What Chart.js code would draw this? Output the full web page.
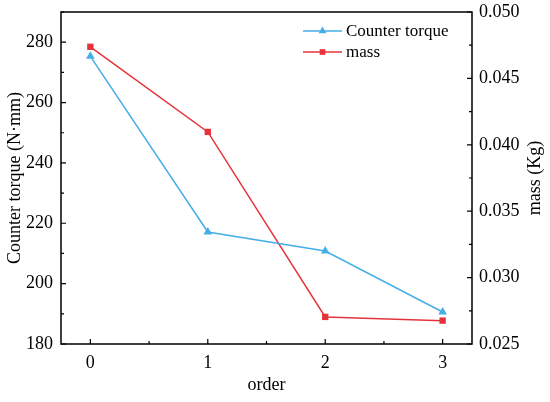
<!DOCTYPE html>
<html>
<head>
<meta charset="utf-8">
<script src="https://cdn.jsdelivr.net/npm/chart.js@4.4.1/dist/chart.umd.min.js"></script>
<style>
  html, body { margin: 0; padding: 0; background: #fff; }
  #wrap { width: 550px; height: 402px; }
</style>
</head>
<body>
<div id="wrap"><canvas id="torqueChart" width="550" height="402"></canvas></div>
<script>
const orders = [0, 1, 2, 3];
const torque = [275.3, 217.1, 210.8, 190.6];
const mass = [0.04738, 0.04097, 0.02704, 0.02676];
const torqueTicks = [180, 200, 220, 240, 260, 280];
const massTicks = [0.025, 0.030, 0.035, 0.040, 0.045, 0.050];

const blue = '#45aee6';
const red = '#e6333b';
const font = 'Liberation Serif, Times New Roman, serif';

// ticks pointing into the plot, with minor ticks between majors
const innerTicks = {
    id: 'innerTicks',
    afterDraw(chart) {
        const ctx = chart.ctx;
        const a = chart.chartArea;
        const x = chart.scales.x, yl = chart.scales.y, yr = chart.scales.y1;
        ctx.save();
        ctx.strokeStyle = '#000';
        ctx.lineWidth = 1.5;
        ctx.beginPath();
        ctx.rect(a.left, a.top, a.right - a.left, a.bottom - a.top);
        ctx.stroke();
        ctx.lineWidth = 1.2;
        ctx.beginPath();
        for (let v = 0; v <= 3.01; v += 0.5) {
            const px = x.getPixelForValue(v);
            const len = Math.abs(v % 1) < 0.01 ? 5 : 3;
            ctx.moveTo(px, a.bottom); ctx.lineTo(px, a.bottom - len);
        }
        for (let v = 180; v <= 290; v += 10) {
            const py = yl.getPixelForValue(v);
            const len = v % 20 === 0 ? 5 : 3;
            ctx.moveTo(a.left, py); ctx.lineTo(a.left + len, py);
        }
        for (let i = 0; i <= 10; i++) {
            const v = 0.025 + i * 0.0025;
            const py = yr.getPixelForValue(v);
            const len = i % 2 === 0 ? 5 : 3;
            ctx.moveTo(a.right, py); ctx.lineTo(a.right - len, py);
        }
        ctx.stroke();

        // right axis title, reading bottom to top like the left one
        ctx.fillStyle = '#000';
        ctx.font = '18px ' + font;
        ctx.textAlign = 'center';
        ctx.textBaseline = 'middle';
        ctx.translate(535, (a.top + a.bottom) / 2);
        ctx.rotate(-Math.PI / 2);
        ctx.fillText('mass (Kg)', 0, 0);
        ctx.setTransform(1, 0, 0, 1, 0, 0);

        // legend: line with marker, then label
        const items = chart.data.datasets;
        ctx.font = '17px ' + font;
        ctx.textAlign = 'left';
        items.forEach((ds, i) => {
            const y = 31 + i * 21;
            ctx.strokeStyle = ds.borderColor;
            ctx.fillStyle = ds.borderColor;
            ctx.lineWidth = 1.5;
            ctx.beginPath();
            ctx.moveTo(303, y); ctx.lineTo(342, y);
            ctx.stroke();
            Chart.helpers.drawPoint(ctx, { pointStyle: ds.pointStyle, radius: ds.pointRadius - 0.5, borderWidth: 0 }, 322.5, y);
            ctx.fillStyle = '#000';
            ctx.fillText(ds.label, 346, y + 1);
        });
        ctx.restore();
    }
};

const fitY = w => s => { s.width = w; s.paddingTop = 0; s.paddingBottom = 0; };

new Chart(document.getElementById('torqueChart'), {
    type: 'line',
    data: {
        datasets: [
            {
                label: 'Counter torque',
                data: orders.map((o, i) => ({ x: o, y: torque[i] })),
                borderColor: blue,
                backgroundColor: blue,
                borderWidth: 1.5,
                pointStyle: 'triangle',
                pointRadius: 5,
                pointBorderWidth: 0,
                yAxisID: 'y'
            },
            {
                label: 'mass',
                data: orders.map((o, i) => ({ x: o, y: mass[i] })),
                borderColor: red,
                backgroundColor: red,
                borderWidth: 1.5,
                pointStyle: 'rect',
                pointRadius: 4.5,
                pointBorderWidth: 0,
                yAxisID: 'y1'
            }
        ]
    },
    options: {
        responsive: false,
        animation: false,
        layout: { padding: { top: 12, right: 0, left: 0, bottom: 0 } },
        plugins: { legend: { display: false }, tooltip: { enabled: false } },
        scales: {
            x: {
                type: 'linear',
                min: -0.25,
                max: 3.25,
                afterBuildTicks: s => { s.ticks = orders.map(v => ({ value: v })); },
                afterFit: s => { s.height = 58; s.paddingLeft = 0; s.paddingRight = 0; },
                grid: { drawOnChartArea: false, drawTicks: false },
                border: { display: false },
                ticks: { padding: 8, color: '#000', font: { family: font, size: 18 } },
                title: { display: true, text: 'order', color: '#000', font: { family: font, size: 18 }, padding: { top: 0, bottom: 6 } }
            },
            y: {
                position: 'left',
                min: 180,
                max: 290,
                afterBuildTicks: s => { s.ticks = torqueTicks.map(v => ({ value: v })); },
                afterFit: fitY(61),
                grid: { drawOnChartArea: false, drawTicks: false },
                border: { display: false },
                ticks: { padding: 8, color: '#000', font: { family: font, size: 18 } },
                title: { display: true, text: 'Counter torque (N·mm)', color: '#000', font: { family: font, size: 18 }, padding: { top: 4, bottom: 0 } }
            },
            y1: {
                position: 'right',
                min: 0.025,
                max: 0.050,
                afterBuildTicks: s => { s.ticks = massTicks.map(v => ({ value: v })); },
                afterFit: fitY(78),
                grid: { drawOnChartArea: false, drawTicks: false },
                border: { display: false },
                ticks: { padding: 7, color: '#000', font: { family: font, size: 18 }, callback: v => v.toFixed(3) },
                title: { display: false }
            }
        }
    },
    plugins: [innerTicks]
});
</script>
</body>
</html>
